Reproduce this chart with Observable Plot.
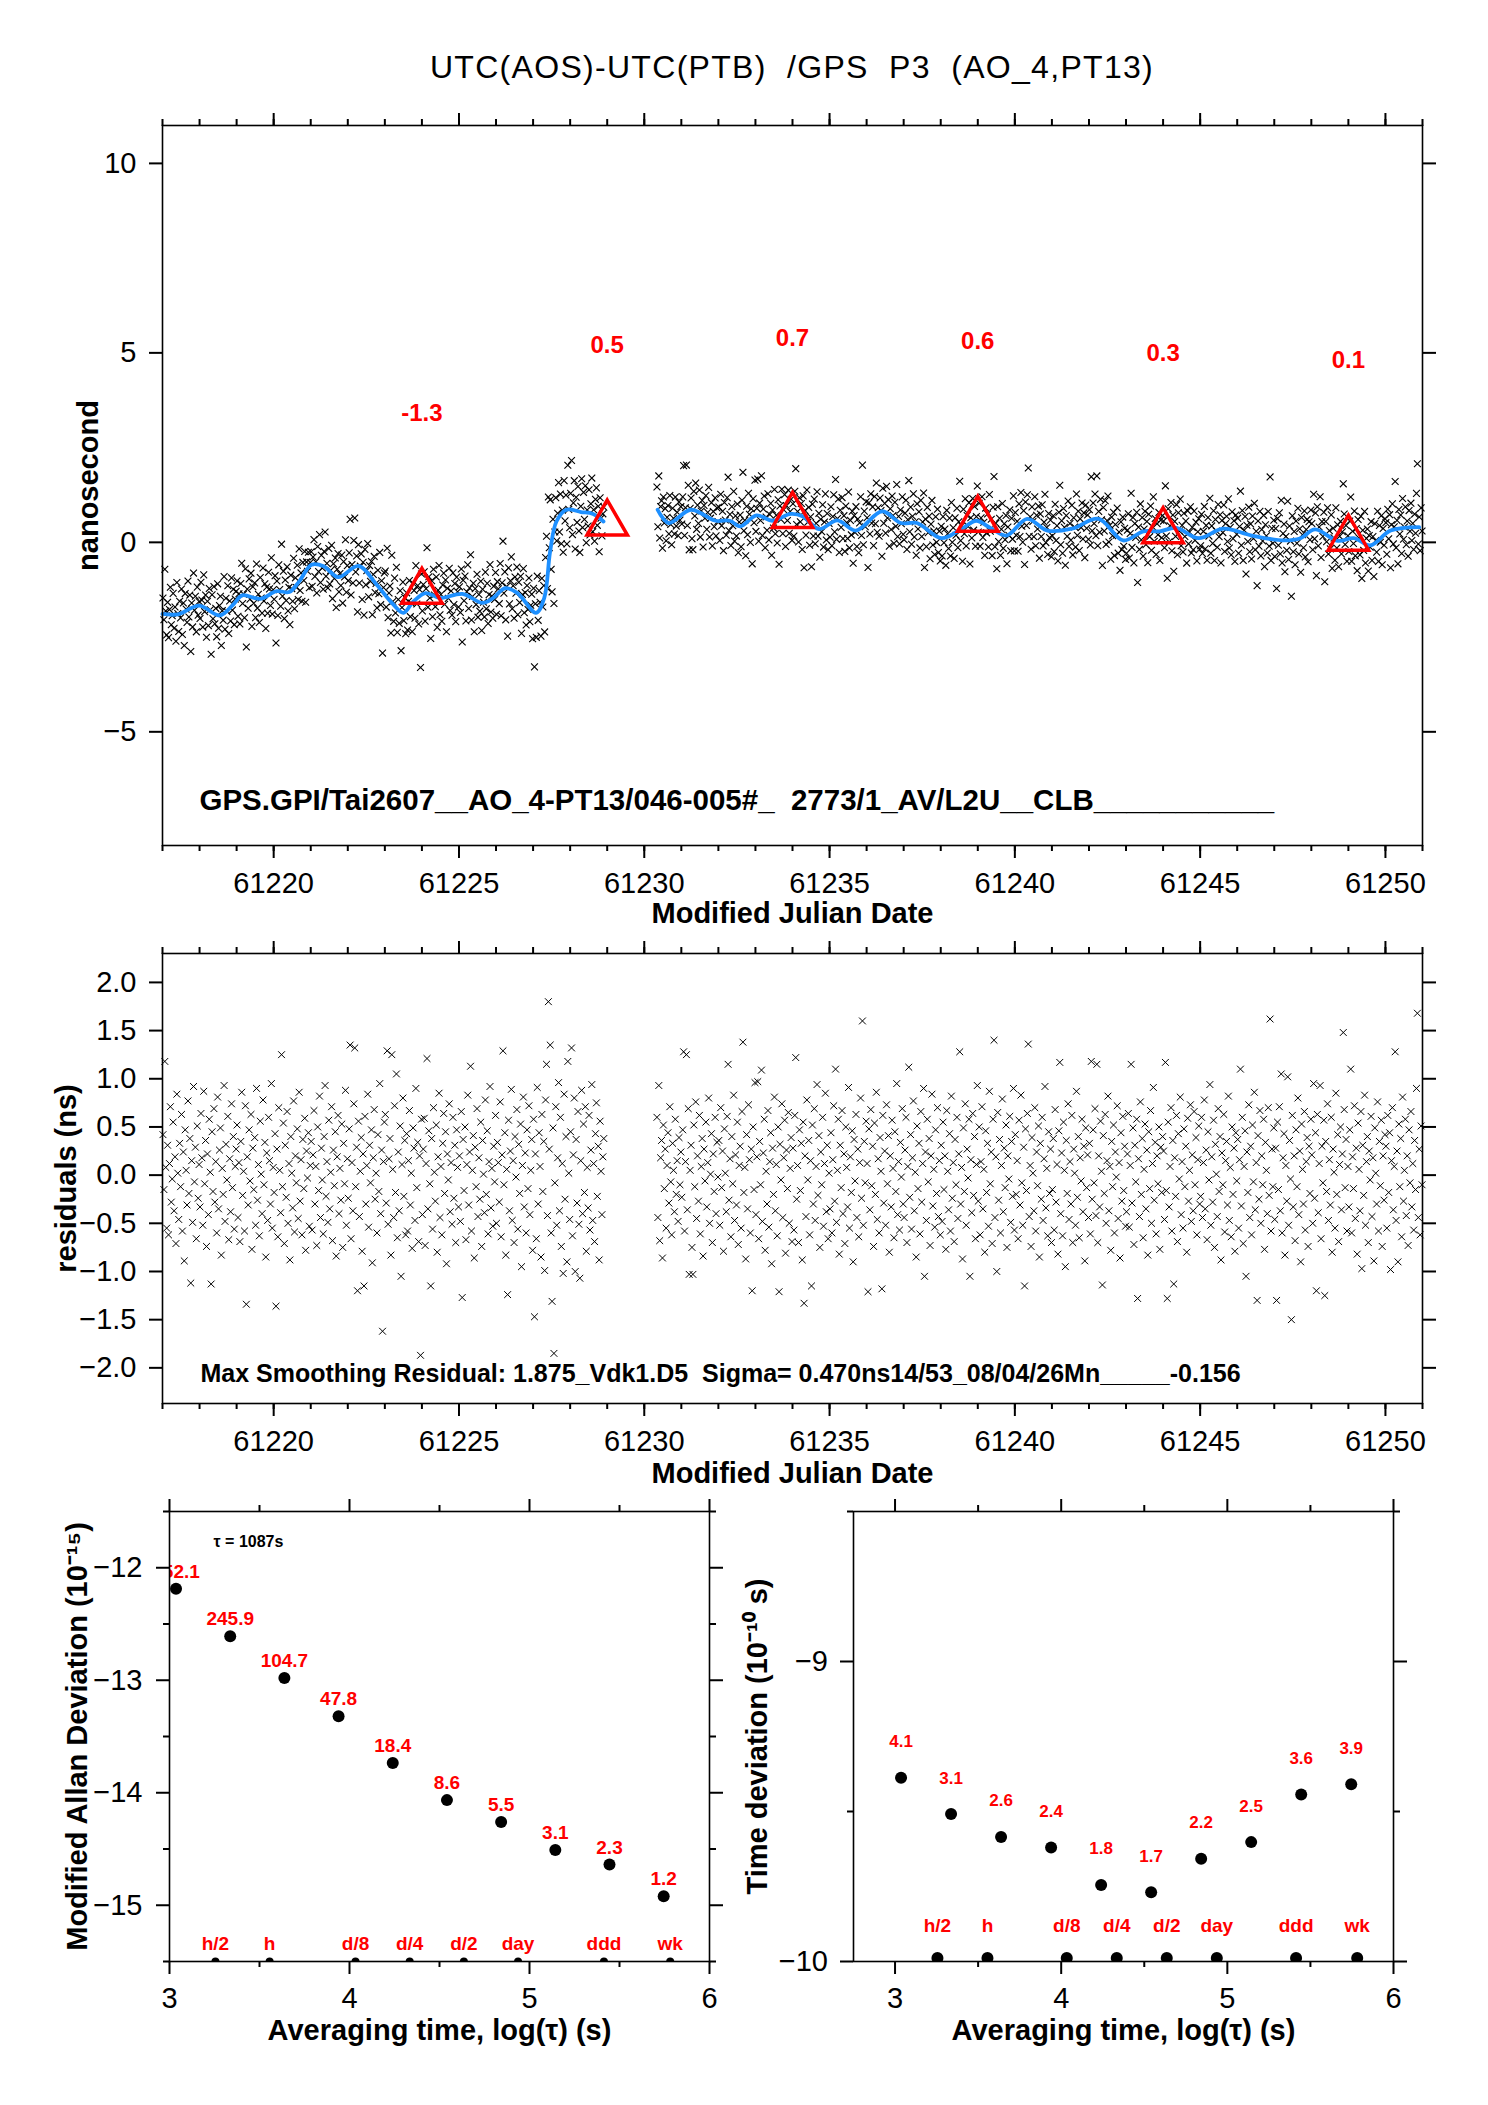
<!DOCTYPE html>
<html>
<head>
<meta charset="utf-8">
<script src="https://cdn.jsdelivr.net/npm/d3@7"></script>
<script src="https://cdn.jsdelivr.net/npm/@observablehq/plot@0.6"></script>
<style>
html, body { margin: 0; padding: 0; background: #fff; overflow: hidden; }
#page { position: relative; width: 1488px; height: 2105px; background: #fff; font-family: "Liberation Sans", Arial, Helvetica, sans-serif; }
#title { position: absolute; left: 162px; width: 1260px; top: 46px; text-align: center; font-size: 32px; line-height: 42px; letter-spacing: 1.3px; white-space: pre; color: #000; }
</style>
</head>
<body>
<div id="page"><div id="title">UTC(AOS)-UTC(PTB)  /GPS  P3  (AO_4,PT13)</div></div>
<script>
// ---------------- DATA ----------------
// Panel 1: smoothed curve (MJD, ns), two segments separated by a data gap
const smoothT1 = [61217.0, 61217.42, 61217.99, 61218.54, 61218.91, 61219.15, 61219.64, 61220.08, 61220.42, 61220.69, 61221.02, 61221.35, 61221.74, 61222.29, 61222.78, 61223.22, 61223.50, 61223.77, 61224.10, 61224.49, 61225.09, 61225.64, 61225.92, 61226.25, 61226.58, 61227.08, 61227.30, 61227.46, 61227.63, 61227.90, 61228.29, 61228.62, 61228.90];
const smoothV1 = [-1.89, -1.90, -1.67, -1.93, -1.64, -1.40, -1.49, -1.29, -1.31, -1.03, -0.59, -0.63, -0.92, -0.62, -1.12, -1.63, -1.86, -1.56, -1.34, -1.47, -1.36, -1.60, -1.47, -1.21, -1.34, -1.86, -1.47, -0.24, 0.55, 0.86, 0.80, 0.75, 0.55];
const smoothT2 = [61230.36, 61230.66, 61231.26, 61231.92, 61232.31, 61232.59, 61233.03, 61233.47, 61233.95, 61234.27, 61234.72, 61235.21, 61235.71, 61236.42, 61236.92, 61237.36, 61238.02, 61238.57, 61238.96, 61239.34, 61239.78, 61240.33, 61240.88, 61241.54, 61242.26, 61242.92, 61243.47, 61243.91, 61244.35, 61244.96, 61245.62, 61246.39, 61247.27, 61247.71, 61248.10, 61248.71, 61249.15, 61249.59, 61250.14, 61250.91];
const smoothV2 = [0.86, 0.51, 0.86, 0.57, 0.57, 0.42, 0.71, 0.57, 0.75, 0.69, 0.35, 0.58, 0.31, 0.82, 0.51, 0.51, 0.11, 0.36, 0.57, 0.38, 0.18, 0.62, 0.31, 0.36, 0.62, 0.05, 0.29, 0.29, 0.38, 0.11, 0.36, 0.18, 0.05, 0.11, 0.34, 0.04, 0.11, -0.08, 0.31, 0.40];

// Panel 1: 5-day averages (triangles) and their labels
const avgMJD = [61224, 61229, 61234, 61239, 61244, 61249];
const avgVal = [-1.3, 0.5, 0.7, 0.6, 0.3, 0.1];

// Residuals (ns) per day of data
const r61217 = [.42,-.15,1.18,.08,-.55,.31,-.62,.12,.71,-.28,-.04,.55,-.37,.19,-.71,.84,.02,-.46,.33,-.12,.63,-.58,.24,-.89,.47,.05,-.31,.77,-.19,.38,-1.12,.15,-.49,.92,-.07,.29,-.66,.51,-.24,.11];
const r61218 = [-.33,.64,.18,-.52,.87,-.09,.36,-.74,.22,-.41,.58,.03,-1.13,.45,-.17,.69,-.28,.14,-.6,.81,-.35,.26,.49,-.83,.07,-.2,.93,-.48,.32,-.05,.61,-.67,.17,-.38,.74,-.13,.4,-.56,.09,.27];
const r61219 = [.52,-.44,.13,-.69,.35,.86,-.21,.04,-.58,.72,-1.34,.19,-.31,.47,-.06,.63,-.77,.28,-.15,.39,-.52,.9,-.26,.11,-.63,.56,.01,-.4,.78,-.1,.34,-.85,.23,-.47,.6,.15,-.3,.95,-.55,.08];
const r61220 = [-.18,.43,-1.36,.27,-.64,.7,.05,-.39,1.25,-.12,.54,-.71,.31,-.23,.66,-.5,.12,-.88,.4,.02,-.34,.77,-.59,.2,-.08,.48,-.45,.86,-.27,.16,-.62,.37,-.14,.59,-.78,.25,-.03,.44,-.53,.1];
const r61221 = [.35,-.57,.21,.67,-.3,.09,-.73,.5,-.16,.82,-.44,.28,-.05,-.61,.4,.93,-.22,.14,-.49,.57,-.35,.03,.71,-.68,.26,-.11,.45,-.84,.19,.62,-.4,.07,-.26,.53,-.75,.33,-.09,.88,-.52,.17];
const r61222 = [-.24,.48,1.35,-.66,.13,-.37,.74,1.32,-.12,.29,-1.2,.56,-.43,.04,.39,-.79,.22,-1.15,.61,-.3,.1,.84,-.54,.31,-.08,.47,-.91,.18,.68,-.25,.02,-.6,.42,-.17,.95,-.4,.26,-1.62,.14,.55];
const r61223 = [.63,-.29,1.29,-.51,.17,.38,-.83,1.25,.06,-.44,.72,-.18,1.05,-.65,.24,-.37,.51,-1.05,.11,.8,-.22,.36,-.62,.43,-.58,.15,.67,-.31,.02,-.76,.49,.28,-.47,.9,-.13,.34,-.69,.2,-1.87,.58];
const r61224 = [-.41,.27,.59,-.73,.12,1.21,-.35,.46,-.09,-1.15,.38,-.56,.7,.03,-.27,.52,-.8,.19,.85,-.44,.09,-.62,.33,.64,-.19,.45,-.92,.22,-.05,.74,-.38,.13,-.51,.6,-.24,.31,-.7,.47,.08,-.33];
const r61225 = [.2,-.48,.66,-1.27,.37,-.16,.5,-.67,.11,.83,-.31,.24,1.13,-.58,.05,.41,-.86,.29,-.12,.69,-.43,.18,-.25,.55,-.74,.36,.01,-.39,.78,-.2,.46,-.61,.14,.92,-.34,.07,-.53,.3,-.07,.62];
const r61226 = [-.5,.34,.13,-.28,.76,-.64,.21,1.29,-.1,.44,-.83,.06,-1.24,.57,-.37,.25,.89,-.47,.15,-.7,.4,-.02,.68,-.56,.32,-.19,.53,-.95,.1,.81,-.33,.23,-.6,.47,-.14,.72,-.41,.05,.37,-.78];
const r61227 = [.58,-1.47,.22,-.66,.91,-.3,.44,.09,-.85,.63,-.17,.35,-.99,.78,1.15,-.42,1.8,.27,1.35,-.6,-1.31,.49,-1.85,-.08,.71,-.52,.18,.96,-.37,.6,-.74,.12,-1.02,.84,-.25,.4,-.9,1.18,.02,-.46];
const r61228 = [.45,1.32,-.63,.21,.8,-1.0,.37,-.29,.66,-.51,-1.07,.15,.88,-.4,.53,-.18,.71,-.79,.08,-.34,.62,-.57,.26,.94,-.47,.12,-.69,.43,.75,-.22,.3,-.88,.56,.04,-.41,.19,.38];
const r61230 = [.6,-.44,.93,-.68,.18,.36,-.86,.52,-.14,.27,-.55,.1,.44,-.29,.71,-.07,-.62,.33,.05,-.38,.58,-.2,.15,-.48,.39,-.1,.24];
const r61231 = [-.23,.47,1.28,-.58,.14,1.25,-.36,.69,-1.03,.05,.31,-.75,-1.03,.52,-.12,.76,-.45,.2,-.27,.62,-.61,.09,.38,-.84,.27,-.06,.55,-.33,.13,.8,-.5,.01,.43,-.7,.22,-.17,.6,-.4,.34,-.02];
const r61232 = [.36,-.52,.7,-.13,.25,-.79,.48,.02,-.38,.61,1.15,-.26,.17,-.64,.4,-.09,.83,-.47,.21,-.31,.55,-.72,.1,.3,-.55,.66,1.38,-.18,.08,-.87,.42,-.35,.73,.16,-.6,.27,-1.2,.5,-.15,.96];
const r61233 = [-.41,.19,.97,-.66,.35,-.1,1.09,-.48,.23,.58,-.78,.04,-.3,.67,-.54,.14,.44,-.92,.28,-.2,.81,-.37,.11,-.63,.5,-1.21,.32,-.05,.74,-.44,.18,.57,-.81,.26,-.14,.65,-.5,.07,.39,-.69];
const r61234 = [.28,-.57,.62,1.22,-.25,.1,-.7,.47,-.16,.33,-.88,.55,-1.33,.2,-.43,.78,-.05,.36,-.62,.15,-1.15,.52,-.3,.69,-.47,.09,.94,-.21,.41,-.75,.24,-.1,.6,-.53,.12,.85,-.38,.31,-.66,.02];
const r61235 = [-.35,.44,-.6,.16,.72,-.27,1.1,-.49,.05,.58,-.82,.31,-.13,.67,-.4,.22,-.71,.5,.08,-.33,.91,-.55,.19,-.18,.46,-.9,.37,-.06,.63,-.44,.27,-.64,.13,.8,-.24,1.6,-.52,.35,-.08,.56];
const r61236 = [.12,-1.21,.48,-.36,.68,-.11,.3,-.74,.54,-.2,.86,-.46,.17,-.6,.39,.04,-1.18,.62,-.29,.25,-.52,.73,-.09,.41,-.8,.2,-.33,.57,.07,-.65,.45,-.17,.95,-.41,.14,-.57,.34,-.02,.69,-.3];
const r61237 = [-.44,.26,.6,-.7,.09,1.12,-.23,.42,-.56,.18,.77,-.37,.03,-.85,.51,-.14,.33,-.61,.66,-.28,.12,.9,-1.05,.24,-.47,.58,-.07,.38,-.73,.2,.84,-.32,.06,-.54,.47,-.19,.7,-.43,.15,-.62];
const r61238 = [.31,-.48,.55,-.15,.2,-.77,.67,.04,-.36,.43,-.58,.82,-.24,.13,-.69,.37,-.1,.6,-.45,.22,1.28,-.3,.08,-.87,.49,-.17,.74,-.52,.27,-.03,.58,-1.05,.16,-.39,.64,-.21,.4,-.66,.11,.93];
const r61239 = [-.27,.5,-.62,.14,.71,-.35,.06,-.8,.46,-.18,.33,-.53,.87,-.09,.24,-.71,.58,1.4,-.44,.19,-1.0,.65,-.26,.37,-.6,.1,.79,-.38,.28,-.13,.52,-.75,.2,-.04,.61,-.49,.35,-.22,.9,-.57];
const r61240 = [.42,-.2,.15,-.66,.57,-.31,.83,-.08,-.52,.29,-1.15,.48,-.16,.64,1.36,-.43,.1,-.74,.39,.02,-.37,.7,-.58,.24,-.11,.51,-.85,.33,-.25,.6,-.47,.17,.92,-.34,.07,-.63,.45,-.19,.27,-.7];
const r61241 = [-.15,.38,-.57,.68,-.28,.11,-.82,.46,1.17,-.4,.23,-.63,.55,.05,-.95,.36,-.19,.74,-.46,.14,-.3,.62,-.7,.27,.02,-.52,.87,-.23,.4,-.65,.18,-.06,.58,-.38,.3,-.89,.49,-.13,.21,-.44];
const r61242 = [.33,-.61,1.18,-.25,.47,-.08,.69,-.42,1.15,-.7,.2,-.33,.56,.04,-1.14,.41,-.19,.63,-.5,.15,.82,-.37,.09,-.78,.35,-.12,.52,-.6,.24,-.02,.72,-.45,.13,-.86,.44,-.27,.61,-.16,.3,-.53];
const r61243 = [-.38,.22,.64,-.54,.1,1.15,-.29,.49,-.72,.31,-.07,.58,-1.28,.17,-.43,.76,-.2,.38,-.65,.06,.53,-.35,.26,-.83,.45,-.14,.67,-.5,.12,.91,-.26,.34,-.61,.2,-.09,.5,-.77,.29,-.18,.4];
const r61244 = [.25,-.46,1.17,-.16,-1.28,.55,-.33,.09,.7,-.58,.36,-1.13,.18,-.22,.62,-.69,.43,-.04,.81,-.41,.14,-.55,.48,-.12,.3,-.8,.59,-.27,.05,.73,-.48,.21,-.37,.66,-.1,.39,-.62,.16,.51,-.3];
const r61245 = [-.22,.6,-.44,.13,.78,-.35,.26,-.67,.45,-.05,.94,-.52,.19,-.28,.57,-.75,.32,.01,-.43,.69,-.17,.4,-.88,.23,-.1,.63,-.59,.15,.35,-.31,.82,-.47,.08,-.64,.5,-.2,.28,-.79,.44,-.06];
const r61246 = [.37,-.55,.16,1.1,-.32,.6,-.71,.09,.46,-1.05,.24,-.18,.73,-.44,.3,-.62,.52,-.07,.86,-.36,.13,-1.3,.41,-.25,.67,-.5,.2,-.1,.58,-.77,.34,.05,-.4,.7,-.21,1.62,-.58,.27,-.12,.49];
const r61247 = [-.46,.28,-1.3,.55,-.15,.71,-.37,1.05,-.6,.18,.43,-.83,.1,-.27,1.02,-.52,.36,-.04,-1.5,.62,-.33,.2,-.68,.47,-.12,.8,-.41,.25,-.9,.53,.06,-.3,.66,-.57,.14,.39,-.74,.3,-.19,.58];
const r61248 = [.21,-.5,.95,-.24,.44,-1.2,.63,-.39,.12,.93,-.66,.3,-.08,.57,-1.25,.35,-.17,.74,-.47,.16,-.31,.6,-.8,.27,.03,-.55,.85,-.2,.42,-.69,.11,.5,-.36,.22,1.48,.68,-.13,.37,-.58,.09];
const r61249 = [-.33,.47,1.1,-.6,.19,-.14,.72,-.45,.28,-.82,.54,.06,-.37,.66,-.97,.31,-.21,.83,-.52,.14,.4,-.7,.25,-.05,.61,-.43,.18,-.89,.49,.02,-.3,.76,-.58,.35,-.11,.57,-.74,.2,-.26,.42];
const r61250 = [.3,-.55,.62,-.18,.44,-.98,.15,.7,-.36,.09,1.28,-.47,.25,-.9,.53,-.12,.38,-.64,.81,-.27,.05,.58,-.42,.2,-.73,.47,-.08,.66,-.33,.12,-.57,.36,-.15,.9,1.68,-.44,.27,-.62,.51,-.1];

const resDays = [r61217, r61218, r61219, r61220, r61221, r61222, r61223, r61224, r61225, r61226, r61227, r61228,
  r61230, r61231, r61232, r61233, r61234, r61235, r61236, r61237, r61238, r61239, r61240, r61241, r61242, r61243, r61244, r61245, r61246, r61247, r61248, r61249, r61250];
const resDayStart = [61217, 61218, 61219, 61220, 61221, 61222, 61223, 61224, 61225, 61226, 61227, 61228,
  61230.33, 61231, 61232, 61233, 61234, 61235, 61236, 61237, 61238, 61239, 61240, 61241, 61242, 61243, 61244, 61245, 61246, 61247, 61248, 61249, 61250];
const resDayEnd = [61218, 61219, 61220, 61221, 61222, 61223, 61224, 61225, 61226, 61227, 61228, 61228.92,
  61231, 61232, 61233, 61234, 61235, 61236, 61237, 61238, 61239, 61240, 61241, 61242, 61243, 61244, 61245, 61246, 61247, 61248, 61249, 61250, 61251];

// Stability panels
const tauSec = [1087, 2174, 4348, 8696, 17392, 34784, 69568, 139136, 278272, 556544];
const modAdev = [652.1, 245.9, 104.7, 47.8, 18.4, 8.6, 5.5, 3.1, 2.3, 1.2];   // x 1e-15
const tdevVal = [4.1, 3.1, 2.6, 2.4, 1.8, 1.7, 2.2, 2.5, 3.6, 3.9];            // x 1e-10 s
const tauNames = ["h/2", "h", "d/8", "d/4", "d/2", "day", "ddd", "wk"];
const tauNameSec = [1800, 3600, 10800, 21600, 43200, 86400, 259200, 604800];

// Tick values
const mjdTicks = [61220, 61225, 61230, 61235, 61240, 61245, 61250];
const nsTicks = [-5, 0, 5, 10];
const resTicks = [-2.0, -1.5, -1.0, -0.5, 0.0, 0.5, 1.0, 1.5, 2.0];
const logTauTicks = [3, 4, 5, 6];
const logTauMinor = [3.5, 4.5, 5.5];
const adevTicks = [-12, -13, -14, -15];
const adevMinor = [-11.5, -12.5, -13.5, -14.5, -15.5];
const tdevTicks = [-9, -10];
const tdevMinor = [-8.5, -9.5];

const infoText1 = "GPS.GPI/Tai2607__AO_4-PT13/046-005#_  2773/1_AV/L2U__CLB___________";
const infoText2 = "Max Smoothing Residual: 1.875_Vdk1.D5  Sigma= 0.470ns14/53_08/04/26Mn_____-0.156";

// ---------------- BUILD ----------------
const FONT = '"Liberation Sans", Arial, Helvetica, sans-serif';
const RED = "#ff0000";
const page = document.getElementById("page");

function smoothAt(t) {
  const [T, V] = t < 61229.5 ? [smoothT1, smoothV1] : [smoothT2, smoothV2];
  if (t <= T[0]) return V[0];
  if (t >= T[T.length - 1]) return V[V.length - 1];
  const i = d3.bisectRight(T, t);
  const f = (t - T[i - 1]) / (T[i] - T[i - 1]);
  return V[i - 1] + f * (V[i] - V[i - 1]);
}

const resid = [];
resDays.forEach((vals, k) => {
  const a = resDayStart[k], b = resDayEnd[k], n = vals.length;
  vals.forEach((v, i) => resid.push({t: a + (i + 0.5) * (b - a) / n, r: v}));
});
const raw = resid.map(d => ({t: d.t, v: smoothAt(d.t) + d.r}));
const smooth = [
  ...smoothT1.map((t, i) => ({t, v: smoothV1[i], seg: 1})),
  ...smoothT2.map((t, i) => ({t, v: smoothV2[i], seg: 2}))
];
const avgs = avgMJD.map((t, i) => ({t, v: avgVal[i], label: String(avgVal[i])}));
const adev = tauSec.map((s, i) => ({lt: Math.log10(s), ly: Math.log10(modAdev[i] * 1e-15), label: modAdev[i].toFixed(1)}));
const tdev = tauSec.map((s, i) => ({lt: Math.log10(s), ly: Math.log10(tdevVal[i] * 1e-10), label: tdevVal[i].toFixed(1)}));
const tauMarks = tauNames.map((n, i) => ({name: n, lt: Math.log10(tauNameSec[i])}));

const blank = () => "";
function frameAxes(o) {
  const sw = 2;
  const m = [
    Plot.axisX({anchor: "bottom", ticks: o.xMajor, tickSize: 13, tickPadding: o.xPad, tickFormat: o.xFmt, fontSize: 29, label: null, strokeWidth: sw}),
    Plot.axisX({anchor: "bottom", ticks: o.xMinor, tickSize: 6, tickFormat: blank, label: null, strokeWidth: sw}),
    Plot.axisX({anchor: "top", ticks: o.xMajor, tickSize: 13, tickFormat: blank, label: null, strokeWidth: sw}),
    Plot.axisX({anchor: "top", ticks: o.xMinor, tickSize: 7, tickFormat: blank, label: null, strokeWidth: sw}),
    Plot.axisY({anchor: "left", ticks: o.yMajor, tickSize: 13, tickPadding: o.yPad, tickFormat: o.yFmt, fontSize: 29, label: null, strokeWidth: sw}),
    Plot.axisY({anchor: "right", ticks: o.yMajor, tickSize: 13, tickFormat: blank, label: null, strokeWidth: sw})
  ];
  if (o.yMinor) {
    m.push(Plot.axisY({anchor: "left", ticks: o.yMinor, tickSize: 6, tickFormat: blank, label: null, strokeWidth: sw}));
    m.push(Plot.axisY({anchor: "right", ticks: o.yMinor, tickSize: 6, tickFormat: blank, label: null, strokeWidth: sw}));
  }
  m.push(Plot.frame({stroke: "black", strokeWidth: 1.6}));
  return m;
}
// axis titles
function xTitle(txt, dy) {
  return Plot.text([txt], {text: d => d, frameAnchor: "bottom", dy, textAnchor: "middle", lineAnchor: "middle", fontWeight: "bold", fontSize: 29});
}
function yTitle(txt, dx) {
  return Plot.text([txt], {text: d => d, frameAnchor: "left", dx, rotate: -90, textAnchor: "middle", lineAnchor: "middle", fontWeight: "bold", fontSize: 29});
}

function place(el, left, top) {
  el.style.position = "absolute";
  el.style.left = left + "px";
  el.style.top = top + "px";
  page.appendChild(el);
}
const baseStyle = {background: "transparent", fontFamily: FONT, color: "black", overflow: "visible"};
const mjdMinor = d3.range(61217, 61252);
const intFmt = d3.format("d");

// Panel 1
const p1 = Plot.plot({
  width: 1488, height: 870, marginLeft: 162, marginRight: 66, marginTop: 40, marginBottom: 110,
  style: baseStyle,
  x: {domain: [61217, 61251]},
  y: {domain: [-8, 11]},
  marks: [
    Plot.dot(raw, {x: "t", y: "v", symbol: "times", r: 3.2, stroke: "black", strokeWidth: 1.1}),
    Plot.line(smooth, {x: "t", y: "v", z: "seg", stroke: "#1e90ff", strokeWidth: 3.8, curve: "catmull-rom"}),
    Plot.dot(avgs, {x: "t", y: "v", symbol: "triangle", r: 15, stroke: RED, strokeWidth: 3.5, fill: "none"}),
    Plot.text(avgs, {x: "t", y: "v", text: "label", dy: -178, fill: RED, fontWeight: "bold", fontSize: 24}),
    Plot.text([infoText1], {text: d => d, frameAnchor: "bottom-left", dx: 37, dy: -45, textAnchor: "start", lineAnchor: "middle", fontWeight: "bold", fontSize: 29.5}),
    yTitle("nanosecond", -74),
    xTitle("Modified Julian Date", 68),
    ...frameAxes({xMajor: mjdTicks, xMinor: mjdMinor, yMajor: nsTicks, xPad: 14, yPad: 13, xFmt: intFmt, yFmt: intFmt})
  ]
});
place(p1, 0, 85);

// Panel 2
const p2 = Plot.plot({
  width: 1488, height: 565, marginLeft: 162, marginRight: 66, marginTop: 18, marginBottom: 97,
  style: baseStyle,
  x: {domain: [61217, 61251]},
  y: {domain: [-2.37, 2.3]},
  marks: [
    Plot.dot(resid, {x: "t", y: "r", symbol: "times", r: 3.2, stroke: "black", strokeWidth: 1}),
    Plot.text([infoText2], {text: d => d, frameAnchor: "bottom-left", dx: 38, dy: -30, textAnchor: "start", lineAnchor: "middle", fontWeight: "bold", fontSize: 25}),
    yTitle("residuals (ns)", -96),
    xTitle("Modified Julian Date", 70),
    ...frameAxes({xMajor: mjdTicks, xMinor: mjdMinor, yMajor: resTicks, xPad: 14, yPad: 13, xFmt: intFmt, yFmt: d3.format(".1f")})
  ]
});
place(p2, 0, 935);

// Panel 3: Modified Allan deviation
const p3 = Plot.plot({
  width: 760, height: 580, marginLeft: 169, marginRight: 51, marginTop: 21, marginBottom: 109,
  style: baseStyle,
  x: {domain: [3, 6]},
  y: {domain: [-15.5, -11.5]},
  marks: [
    Plot.dot(adev, {x: "lt", y: "ly", r: 6, fill: "black"}),
    Plot.text(adev, {x: "lt", y: "ly", text: "label", dy: -17, fill: RED, fontWeight: "bold", fontSize: 19, clip: true}),
    Plot.dot(tauMarks, {x: "lt", frameAnchor: "bottom", r: 4, fill: "black", clip: true}),
    Plot.text(tauMarks, {x: "lt", frameAnchor: "bottom", text: "name", dy: -18, lineAnchor: "middle", fill: RED, fontWeight: "bold", fontSize: 19}),
    Plot.text(["\u03c4 = 1087s"], {text: d => d, frameAnchor: "top-left", dx: 44, dy: 30, textAnchor: "start", lineAnchor: "middle", fontWeight: "bold", fontSize: 16}),
    yTitle("Modified Allan Deviation (10\u207b\u00b9\u2075)", -92),
    xTitle("Averaging time, log(\u03c4) (s)", 69),
    ...frameAxes({xMajor: logTauTicks, xMinor: logTauMinor, yMajor: adevTicks, yMinor: adevMinor, xPad: 13, yPad: 14, xFmt: intFmt, yFmt: intFmt})
  ]
});
place(p3, 0, 1490);

// Panel 4: Time deviation
const p4 = Plot.plot({
  width: 748, height: 580, marginLeft: 113, marginRight: 95, marginTop: 21, marginBottom: 109,
  style: baseStyle,
  x: {domain: [2.75, 6]},
  y: {domain: [-10, -8.5]},
  marks: [
    Plot.dot(tdev, {x: "lt", y: "ly", r: 6, fill: "black"}),
    Plot.text(tdev, {x: "lt", y: "ly", text: "label", dy: -36, fill: RED, fontWeight: "bold", fontSize: 17, clip: true}),
    Plot.dot(tauMarks, {x: "lt", frameAnchor: "bottom", dy: -3.5, r: 6, fill: "black", clip: true}),
    Plot.text(tauMarks, {x: "lt", frameAnchor: "bottom", text: "name", dy: -36, lineAnchor: "middle", fill: RED, fontWeight: "bold", fontSize: 19}),
    yTitle("Time deviation (10\u207b\u00b9\u2070 s)", -96),
    xTitle("Averaging time, log(\u03c4) (s)", 69),
    ...frameAxes({xMajor: logTauTicks, xMinor: logTauMinor, yMajor: tdevTicks, yMinor: tdevMinor, xPad: 13, yPad: 12.5, xFmt: intFmt, yFmt: intFmt})
  ]
});
place(p4, 740, 1490);
</script>
</body>
</html>
